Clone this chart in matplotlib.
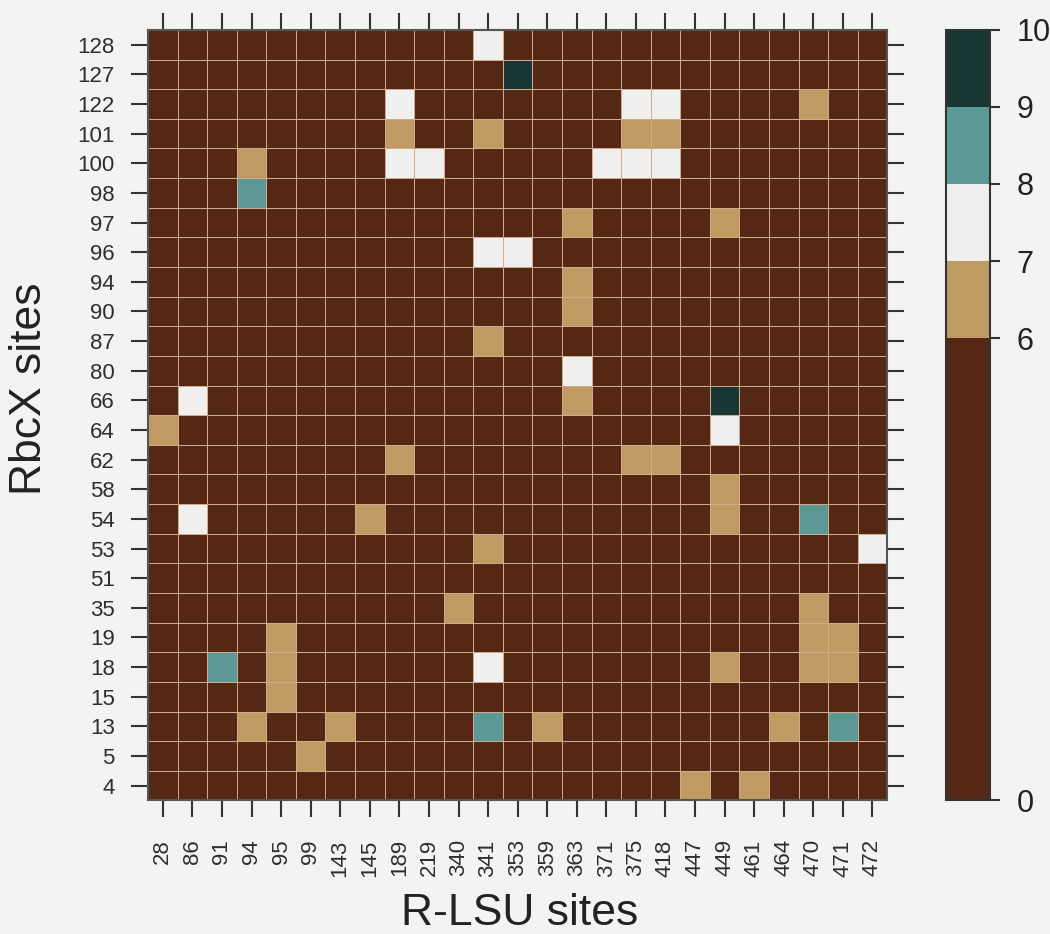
import numpy as np
import matplotlib
matplotlib.use("Agg")
import matplotlib.pyplot as plt
from matplotlib.colors import ListedColormap, BoundaryNorm

plt.rcParams['font.family'] = ['Liberation Sans', 'DejaVu Sans']

x_sites = ["28", "86", "91", "94", "95", "99", "143", "145", "189", "219", "340", "341",
           "353", "359", "363", "371", "375", "418", "447", "449", "461", "464", "470",
           "471", "472"]
y_sites = ["4", "5", "13", "15", "18", "19", "35", "51", "53", "54", "58", "62", "64",
           "66", "80", "87", "90", "94", "96", "97", "98", "100", "101", "122", "127", "128"]

base_value = 5.0
# (RbcX site, R-LSU site, value) for cells above the baseline
cell_y = ["128", "127", "122", "122", "122", "122",
          "101", "101", "101", "101",
          "100", "100", "100", "100", "100", "100",
          "98", "97", "97", "96", "96", "94", "90", "87", "80",
          "66", "66", "66", "64", "64", "62", "62", "62", "58",
          "54", "54", "54", "54", "53", "53", "35", "35",
          "19", "19", "19", "18", "18", "18", "18", "18", "18", "15",
          "13", "13", "13", "13", "13", "13", "5", "4", "4"]
cell_x = ["341", "353", "189", "375", "418", "470",
          "189", "341", "375", "418",
          "94", "189", "219", "371", "375", "418",
          "94", "363", "449", "341", "353", "363", "363", "341", "363",
          "86", "363", "449", "28", "449", "189", "375", "418", "449",
          "86", "145", "449", "470", "341", "472", "340", "470",
          "95", "470", "471", "91", "95", "341", "449", "470", "471", "95",
          "94", "143", "341", "359", "464", "471", "99", "447", "461"]
cell_v = [7.5, 9.5, 7.5, 7.5, 7.5, 6.5,
          6.5, 6.5, 6.5, 6.5,
          6.5, 7.5, 7.5, 7.5, 7.5, 7.5,
          8.5, 6.5, 6.5, 7.5, 7.5, 6.5, 6.5, 6.5, 7.5,
          7.5, 6.5, 9.5, 6.5, 7.5, 6.5, 6.5, 6.5, 6.5,
          7.5, 6.5, 6.5, 8.5, 6.5, 7.5, 6.5, 6.5,
          6.5, 6.5, 6.5, 8.5, 6.5, 7.5, 6.5, 6.5, 6.5, 6.5,
          6.5, 6.5, 8.5, 6.5, 6.5, 8.5, 6.5, 6.5, 6.5]

levels = [0, 6, 7, 8, 9, 10]
level_colors = ["#542815", "#bf9a62", "#efefed", "#5b9896", "#183634"]

Z = np.full((len(y_sites), len(x_sites)), base_value)
for ry, cx, v in zip(cell_y, cell_x, cell_v):
    Z[y_sites.index(ry), x_sites.index(cx)] = v

bg = "#f3f3f1"
fig = plt.figure(figsize=(10.5, 9.34), dpi=100, facecolor=bg)
ax = fig.add_axes([0.141, 0.143, 0.704, 0.825])
cax = fig.add_axes([0.901, 0.143, 0.042, 0.825])

cmap = ListedColormap(level_colors)
norm = BoundaryNorm(levels, cmap.N)
mesh = ax.pcolormesh(np.arange(len(x_sites) + 1), np.arange(len(y_sites) + 1), Z,
                     cmap=cmap, norm=norm, edgecolors="#cfab8e", linewidth=0.7)
ax.set_xlim(0, len(x_sites))
ax.set_ylim(0, len(y_sites))
ax.set_xticks(np.arange(len(x_sites)) + 0.5)
ax.set_xticklabels(x_sites, rotation=90, fontsize=16)
ax.set_yticks(np.arange(len(y_sites)) + 0.5)
ax.set_yticklabels(y_sites, fontsize=16)
ax.tick_params(axis="both", which="both", direction="out", length=12, width=1.5,
               color="#333333", labelcolor="#2e2e2e", top=True, right=True)
ax.tick_params(axis="y", pad=12)
ax.tick_params(axis="x", pad=16)
for s in ax.spines.values():
    s.set_linewidth(1.5)
    s.set_color("#555555")
ax.set_xlabel("R-LSU sites", fontsize=32, color="#222222", va="center")
ax.xaxis.set_label_coords(0.503, -0.147)
ax.set_ylabel("RbcX sites", fontsize=32, color="#222222", va="center")
ax.yaxis.set_label_coords(-0.160, 0.534)

cb = fig.colorbar(mesh, cax=cax, spacing="proportional", ticks=[0, 6, 7, 8, 9, 10])
cb.ax.tick_params(length=7, width=1.5, labelsize=22, pad=12,
                  color="#333333", labelcolor="#222222")
cb.outline.set_linewidth(1.5)
cb.outline.set_edgecolor("#333333")

fig.savefig("out.png", dpi=100, facecolor=bg)
